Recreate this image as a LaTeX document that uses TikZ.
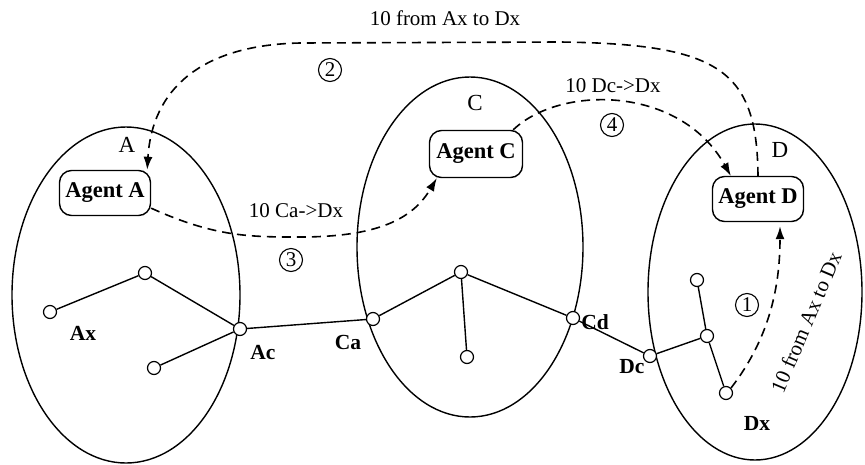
\documentclass[tikz,border=0pt]{standalone}
\usepackage{fontspec}
\setmainfont{Liberation Serif}
\usetikzlibrary{shapes.geometric,arrows.meta,positioning}

\begin{document}
\begin{tikzpicture}[
    x=1pt, y=-1pt,
    font=\fontsize{21}{25}\selectfont,
    region/.style={ellipse, draw, line width=1.4pt, inner sep=0pt},
    rlbl/.style={font=\fontsize{23}{26}\selectfont},
    agent/.style={rectangle, rounded corners=12pt, draw, line width=1.4pt,
        minimum width=91pt, minimum height=45pt, font=\fontsize{22.5}{26}\selectfont\bfseries, inner sep=2pt},
    host/.style={circle, draw, fill=white, line width=1.2pt, minimum size=13pt, inner sep=0pt},
    link/.style={line width=1.4pt},
    msg/.style={-{Latex[length=13pt,width=9pt]}, dash pattern=on 9pt off 6pt, line width=1.6pt},
    num/.style={circle, draw, line width=1.1pt, minimum size=23pt, inner sep=0pt, font=\fontsize{21}{22}\selectfont},
    hlbl/.style={font=\fontsize{21.5}{25}\selectfont\bfseries},
]
\useasboundingbox (0,0) rectangle (865,464);

% ---------- domains ----------
\node[region, minimum width=228pt, minimum height=336pt] (regA) at (126,295) {};
\node[region, minimum width=226pt, minimum height=340pt] (regC) at (470,247) {};
\node[region, minimum width=214pt, minimum height=336pt] (regD) at (755,292) {};
\node[rlbl] (nA) at (127,145) {A};
\node[rlbl] (nC) at (475,103) {C};
\node[rlbl] (nD) at (780,150) {D};

% ---------- agents ----------
\node[agent] (agA) at (105,193) {Agent A};
\node[agent, minimum width=93pt, minimum height=47pt] (agC) at (476,154) {Agent C};
\node[agent] (agD) at (758,199) {Agent D};

% ---------- hosts ----------
\node[host] (a1) at (50,312) {};
\node[host] (a2) at (145,273) {};
\node[host] (ac) at (240,329) {};
\node[host] (a3) at (154,368) {};
\node[host] (ca) at (373,319) {};
\node[host] (c1) at (461,272) {};
\node[host] (c2) at (467,357) {};
\node[host] (cd) at (573,318) {};
\node[host] (dc) at (650,356) {};
\node[host] (d1) at (707,336) {};
\node[host] (d2) at (697,280) {};
\node[host] (dx) at (726,393) {};

\draw[link] (a1) -- (a2) -- (ac);
\draw[link] (a3) -- (ac);
\draw[link] (ac) -- (ca);
\draw[link] (ca) -- (c1) -- (cd);
\draw[link] (c1) -- (c2);
\draw[link] (cd) -- (dc);
\draw[link] (dc) -- (d1) -- (d2);
\draw[link] (d1) -- (dx);

\node[hlbl] at (83,333) {Ax};
\node[hlbl] at (263,352) {Ac};
\node[hlbl] at (348,342) {Ca};
\node[hlbl] at (595,322) {Cd};
\node[hlbl] at (632,367) {Dc};
\node[hlbl] at (757,423) {Dx};

% ---------- messages ----------
\draw[msg, shorten >=4pt] (dx.north east) .. controls (768,340) and (780,290) .. ([xshift=22pt]agD.south);
\node[rotate=67] at (806,322) {10 from Ax to Dx};
\node[num] at (747,305) {1};

\draw[msg] (agD.north) .. controls (757,70) and (720,44) .. (560,42) -- (300,43)
    .. controls (200,45) and (152,90) .. ([xshift=-4pt]agA.north east);
\node at (445,18) {10 from Ax to Dx};
\node[num] at (330,70) {2};

\draw[msg] ([yshift=8pt]agA.south east) .. controls (215,237) and (250,237) .. (300,237)
    .. controls (385,237) and (415,215) .. ([xshift=8pt]agC.south west);
\node at (296,211) {10 Ca->Dx};
\node[num] at (291,260) {3};

\draw[msg] ([xshift=-10pt]agC.north east) .. controls (560,85) and (680,85) .. ([xshift=19pt]agD.north west);
\node at (613,86) {10 Dc->Dx};
\node[num] at (612,125) {4};

\end{tikzpicture}
\end{document}
